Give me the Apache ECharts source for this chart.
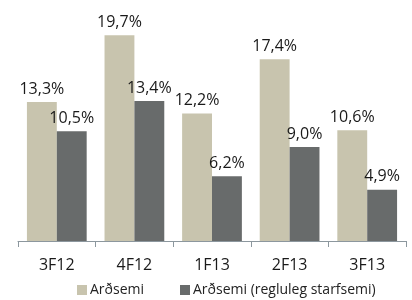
<!DOCTYPE html>
<html>
<head>
<meta charset="utf-8">
<script src="https://cdn.jsdelivr.net/npm/echarts@6/dist/echarts.min.js"></script>
<style>html,body{margin:0;padding:0;background:#fff}#c{width:412px;height:300px}</style>
</head>
<body>
<div id="c"></div>
<script>
var categories = ['3F12', '4F12', '1F13', '2F13', '3F13'];
var seriesNames = ['Arðsemi', 'Arðsemi (regluleg starfsemi)'];
var ardsemi = [13.3, 19.7, 12.2, 17.4, 10.6];
var reglulegStarfsemi = [10.5, 13.4, 6.2, 9.0, 4.9];

var fmt = function (p) { return p.value.toFixed(1).replace('.', ',') + '%'; };
var font = 'Open Sans';
var chart = echarts.init(document.getElementById('c'));
chart.setOption({
  animation: false,
  textStyle: { fontFamily: font },
  grid: { left: 18, right: 6, top: 32, bottom: 59 },
  legend: {
    left: 77, top: 283, padding: 0, itemWidth: 10, itemHeight: 10, itemGap: 36,
    icon: 'rect',
    textStyle: { fontSize: 14, color: '#222', fontFamily: font, padding: [0, 0, 0, -2] },
    data: seriesNames
  },
  xAxis: {
    type: 'category', data: categories,
    axisLine: { lineStyle: { color: '#8c979e', width: 1 } },
    axisTick: { show: true, length: 6, lineStyle: { color: '#8c979e' } },
    axisLabel: { fontSize: 16, color: '#1a1a1a', margin: 16, fontFamily: font }
  },
  yAxis: { type: 'value', min: 0, max: 20, show: false, splitLine: { show: false } },
  series: [
    { name: seriesNames[0], type: 'bar', data: ardsemi, barGap: '0%', barCategoryGap: '23%',
      itemStyle: { color: '#c8c4ae' },
      label: { show: true, position: 'top', distance: 5, fontSize: 16, color: '#1a1a1a', formatter: fmt, fontFamily: font } },
    { name: seriesNames[1], type: 'bar', data: reglulegStarfsemi, barGap: '0%', barCategoryGap: '23%',
      itemStyle: { color: '#686b6b' },
      label: { show: true, position: 'top', distance: 5, fontSize: 16, color: '#1a1a1a', formatter: fmt, fontFamily: font } }
  ]
});
</script>
</body>
</html>
